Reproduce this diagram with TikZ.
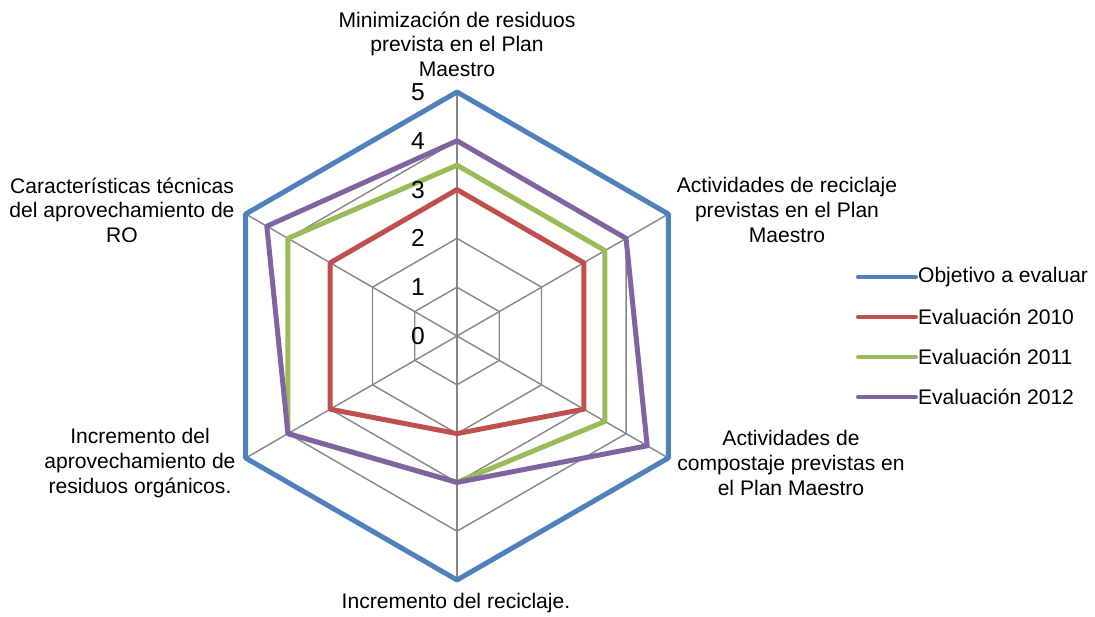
\documentclass[tikz,border=0pt]{standalone}
\usepackage{fontspec}
\setmainfont{Liberation Sans}
\definecolor{objblue}{HTML}{4F81BD}
\definecolor{evred}{HTML}{C0504D}
\definecolor{evgreen}{HTML}{9BBB59}
\definecolor{evpurple}{HTML}{8064A2}
\definecolor{gridgray}{HTML}{868686}
\begin{document}
\begin{tikzpicture}[x=0.02cm,y=0.02cm,
  serie/.style={line width=1mm,line join=round},
  rejilla/.style={gridgray,line width=0.8pt},
  cat/.style={align=center,font=\fontsize{12}{14}\selectfont},
  num/.style={font=\fontsize{14}{16}\selectfont,inner sep=0pt}]
\useasboundingbox (0,0) rectangle (1095,616);
\begin{scope}[shift={(457,280)}]
% rejilla
\foreach \r in {1,...,5}
  \draw[rejilla] (90:\r*48.8) -- (30:\r*48.8) -- (-30:\r*48.8) -- (-90:\r*48.8) -- (-150:\r*48.8) -- (150:\r*48.8) -- cycle;
\foreach \a in {90,30,-30,-90,-150,150}
  \draw[rejilla] (0,0) -- (\a:244);
% series
\foreach \col/\va/\vb/\vc/\vd/\ve/\vf in {objblue/5/5/5/5/5/5,evred/3/3/3/2/3/3,
    evgreen/3.5/3.5/3.5/3/4/4,evpurple/4/4/4.5/3/4/4.5}
  \draw[serie,\col] (90:\va*48.8) -- (30:\vb*48.8) -- (-30:\vc*48.8) -- (-90:\vd*48.8) -- (-150:\ve*48.8) -- (150:\vf*48.8) -- cycle;
% escala
\foreach \k in {0,...,5}
  \node[num] (n\k) at (-39,\k*48.8) {\k};
\end{scope}
% categorias
\node[cat] (minim) at (457,572) {Minimización de residuos\\prevista en el Plan\\Maestro};
\node[cat] (recic) at (787,406) {Actividades de reciclaje\\previstas en el Plan\\Maestro};
\node[cat] (compo) at (791,153) {Actividades de\\compostaje previstas en\\el Plan Maestro};
\node[cat] (increc) at (456,13) {Incremento del reciclaje.};
\node[cat] (incorg) at (140,153) {Incremento del\\aprovechamiento de\\residuos orgánicos.};
\node[cat] (caract) at (122,406) {Características técnicas\\del aprovechamiento de\\RO};
% leyenda
\foreach \col/\txt/\y [count=\i] in {objblue/Objetivo a evaluar/339,evred/Evaluación 2010/299,
    evgreen/Evaluación 2011/259,evpurple/Evaluación 2012/219}
{
  \node[cat,anchor=west,inner sep=1pt] (ley\i) at (916,\y) {\txt};
  \coordinate (m\i) at (858,\y);
  \draw[\col,line width=0.8mm,line cap=round] (m\i) -- (ley\i.west);
}
\end{tikzpicture}
\end{document}
